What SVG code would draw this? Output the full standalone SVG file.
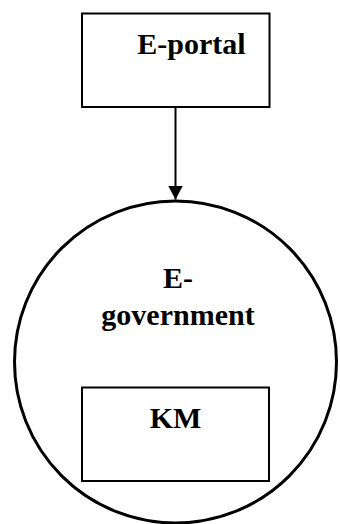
<svg xmlns="http://www.w3.org/2000/svg" width="340" height="524" viewBox="0 0 340 524">
<style>
.box{fill:#fff;stroke:#000;stroke-width:2}
.lbl{font-family:"Liberation Serif","Times New Roman",serif;font-weight:bold;font-size:30px;fill:#000;text-anchor:middle}
</style>
<defs>
<marker id="arr" viewBox="0 0 14 15" refX="14" refY="7.5" markerWidth="14" markerHeight="15" markerUnits="userSpaceOnUse" orient="auto">
<path d="M0,0 L14,7.5 L0,15 Z" fill="#000"/>
</marker>
</defs>
<g id="egov">
<circle cx="175.5" cy="362" r="161" fill="#fff" stroke="#000" stroke-width="3"/>
<text class="lbl" x="178" y="288">E-</text>
<text class="lbl" x="178" y="325">government</text>
</g>
<g id="km">
<rect class="box" x="82" y="387.5" width="187" height="93.5"/>
<text class="lbl" x="175.5" y="428">KM</text>
</g>
<g id="eportal">
<rect class="box" x="82" y="13.5" width="187.5" height="93.5"/>
<text class="lbl" x="191.5" y="54">E-portal</text>
</g>
<g id="connectors">
<line x1="175.5" y1="107" x2="175.5" y2="199.5" stroke="#000" stroke-width="2" marker-end="url(#arr)"/>
</g>
</svg>
